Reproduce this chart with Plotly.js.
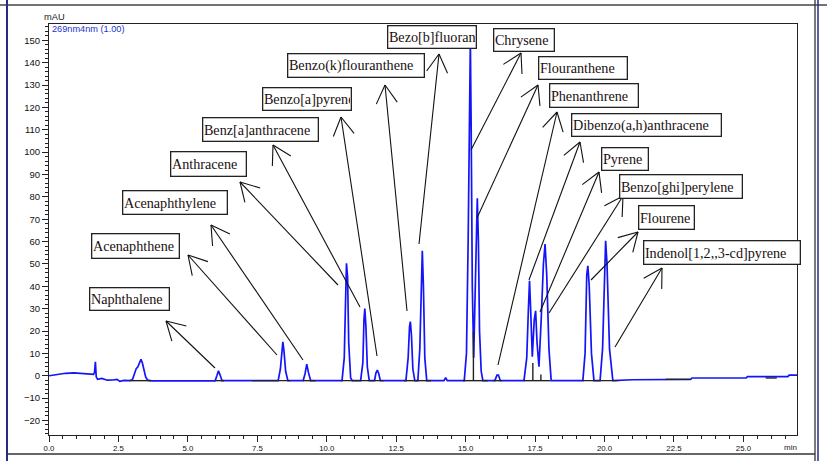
<!DOCTYPE html>
<html>
<head>
<meta charset="utf-8">
<script src="https://cdn.plot.ly/plotly-3.0.1.min.js"></script>
<style>html,body{margin:0;padding:0;background:#fff;}#chart{width:827px;height:461px;}</style>
</head>
<body>
<div id="chart"></div>
<script>
// ---- chromatogram data (retention time in min, absorbance in mAU) ----
const time = [0,0.15,0.35,0.6,0.9,1.2,1.45,1.6,1.64,1.67,1.7,1.75,1.9,2.1,2.3,2.45,2.55,2.7,2.9,3.0,3.08,3.14,3.2,3.27,3.31,3.36,3.42,3.48,3.55,3.7,5.0,
  5.98,6.05,6.1,6.16,6.23,7.5,8.25,8.33,8.38,8.42,8.46,8.52,8.6,9.15,9.22,9.28,9.34,9.42,
  10.55,10.63,10.67,10.71,10.75,10.79,10.86,10.92,11.22,11.3,11.34,11.37,11.41,11.46,11.53,
  11.72,11.77,11.82,11.87,11.93,12.85,12.93,12.98,13.01,13.05,13.1,13.17,
  13.28,13.35,13.4,13.44,13.48,13.53,13.6,14.22,14.28,14.34,
  14.95,15.03,15.09,15.14,15.17,15.2,15.24,15.29,15.34,15.39,15.42,15.46,15.5,15.56,15.62,
  16.05,16.13,16.18,16.25,17.1,17.2,17.26,17.3,17.34,17.4,17.47,17.52,17.57,17.64,17.72,17.8,17.86,17.92,18.0,18.08,
  19.22,19.3,19.36,19.4,19.45,19.53,19.62,19.84,19.93,20.0,20.04,20.09,20.18,20.3,
  21.0,23.1,23.15,25.1,25.15,26.6,26.65,26.93];
const signal = [0,0.3,0.9,1.1,1.3,1.0,0.9,0.6,1.5,6.2,-0.5,-1.6,-1.2,-2.0,-1.9,-1.6,-2.5,-2.1,-2.2,-1.8,1.0,3.2,4.0,6.5,7.3,5.8,2.5,-0.5,-2.0,-2.3,-2.3,
  -2.3,0.2,2.2,0.3,-2.2,-2.2,-2.2,3,12,15.2,11,2,-2.2,-2.2,1,5.2,1.5,-2.2,
  -2.2,8,30,50.3,44,15,-1,-2.2,-2.2,6,25,30.1,22,4,-2.2,
  -2.2,1.2,2.5,1,-2.2,-2.2,8,22,24.2,18,3,-2.2,
  -2.2,12,45,55.9,40,8,-2.2,-2.2,-0.8,-2.2,
  -2.2,10,60,120,150,110,40,8,40,75,79.4,60,20,2,-2.2,
  -2.2,0.3,0.3,-2.2,-2.2,8,30,42.5,30,8.5,25,29,15,4,25,50,58.9,45,12,-2.2,
  -2.2,10,45,49.2,40,10,-2.2,-2.2,12,52,60.4,50,12,-2.2,
  -1.8,-1.6,-1.0,-1.0,-0.4,-0.4,0.3,0.3];

// integration baselines and drop lines (black)
const baseTime  = [2.9,3.67,null,6.0,6.3,null,7.3,8.7,null,9.15,9.6,null,10.5,12.05,null,12.78,13.75,null,14.9,15.8,null,16.0,16.3,null,17.1,18.05,null,19.2,20.5,null,22.2,23.1,null,25.8,26.2,null,15.28,15.28,null,17.42,17.42,null,17.71,17.71];
const baseValue = [-2.2,-2.2,null,-2.2,-2.2,null,-2.2,-2.2,null,-2.2,-2.2,null,-2.2,-2.2,null,-2.2,-2.2,null,-2.2,-2.2,null,-2.2,-2.2,null,-2.2,-2.2,null,-2.2,-2.2,null,-1.6,-1.6,null,-1.0,-1.0,null,-2.2,19.7,null,-2.2,5.7,null,-2.2,0.5];

// compound labels
const compounds = ["Naphthalene","Acenaphthene","Acenaphthylene","Anthracene","Benz[a]anthracene","Benzo[a]pyrene",
  "Benzo(k)flouranthene","Bezo[b]fluoran","Chrysene","Flouranthene","Phenanthrene","Dibenzo(a,h)anthracene",
  "Pyrene","Benzo[ghi]perylene","Flourene","Indenol[1,2,,3-cd]pyrene"];

const xTickStep = 2.5, yTickStep = 10;

// ---- layout geometry (pixels) ----
const L = 49, T = 24, W = 748, H = 411;
function P(px, py){ return [(px - L) / W, (T + H - py) / H]; }

// label box geometry [left, top, right, bottom] in px
const boxes = [[89,287,170,311],[91,233,180,259],[122,190,228,215],[170,151,247,177],[202,117,319,142],[262,87,352,111],
  [287,53,425,78],[387,25,477,49],[493,28,555,52],[538,56,628,80],[549,83,639,108],[571,113,722,137],
  [601,147,649,171],[619,174,743,199],[638,205,695,230],[643,240,801,265]];
// arrows [tipX, tipY, tailX, tailY] in px
const arrows = [[166,321,215,368],[188,255,277,355],[211,225,303,360],[240,182,338,285],[273,145,360,307],[341,117,377,356],
  [385,85,407,311],[439,54,419,244],[521,53,471,150],[538,85,477,218],[557,112,498,365],[580,142,529,280],
  [599,172,540,312],[623,196,549,313],[638,232,591,280],[662,268,615,347]];

const shapes = [];
const annotations = [];
function line(x0,y0,x1,y1,color,width){
  const a = P(x0,y0), b = P(x1,y1);
  shapes.push({type:'line', xref:'paper', yref:'paper', x0:a[0], y0:a[1], x1:b[0], y1:b[1], line:{color:color, width:width}});
}
// outer frame
line(0,5,827,5,'#444',1.3);
line(7,0,7,461,'#2a2a8a',2);
line(7,454,815,454,'#333',1.3);
line(815,0,815,461,'#333',1.3);
line(818,0,818,461,'#2a2a8a',1.5);

// arrows
arrows.forEach(a => {
  const [tx,ty,sx,sy] = a;
  line(tx,ty,sx,sy,'#111',1.1);
  const dx = sx-tx, dy = sy-ty, len = Math.hypot(dx,dy);
  const ux = dx/len, uy = dy/len, al = 21, ang = 30*Math.PI/180;
  [ang,-ang].forEach(t => {
    const rx = ux*Math.cos(t) - uy*Math.sin(t), ry = ux*Math.sin(t) + uy*Math.cos(t);
    line(tx,ty,tx+rx*al,ty+ry*al,'#111',1.1);
  });
});

// label boxes
const bw = 1.3, pad = 0.6;
compounds.forEach((name,i) => {
  const [l,t,r,b] = boxes[i];
  const p = P(l,t);
  annotations.push({text:name, xref:'paper', yref:'paper', x:p[0], y:p[1], xanchor:'left', yanchor:'top',
    showarrow:false, align:'left', valign:'middle', width:(r-l)-2*(bw+pad), height:(b-t)-2*(bw+pad),
    bgcolor:'#ffffff', bordercolor:'#222', borderwidth:bw, borderpad:pad,
    font:{family:'Liberation Serif, Times New Roman, serif', size:14.2, color:'#1a1010'}});
});

// small texts
let p = P(54,17);
annotations.push({text:'mAU', xref:'paper', yref:'paper', x:p[0], y:p[1], xanchor:'center', yanchor:'middle', showarrow:false,
  font:{family:'Liberation Sans, Arial, sans-serif', size:9.3, color:'#222'}});
p = P(49.5,28.5);
annotations.push({text:'269nm4nm (1.00)', xref:'paper', yref:'paper', x:p[0], y:p[1], xanchor:'left', yanchor:'middle', showarrow:false,
  font:{family:'Liberation Sans, Arial, sans-serif', size:9.2, color:'#2233cc'}});
p = P(790,447.5);
annotations.push({text:'min', xref:'paper', yref:'paper', x:p[0], y:p[1], xanchor:'center', yanchor:'middle', showarrow:false,
  font:{family:'Liberation Sans, Arial, sans-serif', size:8, color:'#222'}});

const traces = [
  {x: time, y: signal, type:'scatter', mode:'lines', line:{color:'rgb(20,20,250)', width:1.7}, hoverinfo:'skip'},
  {x: baseTime, y: baseValue, type:'scatter', mode:'lines', line:{color:'#222', width:1.4}, connectgaps:false, hoverinfo:'skip'}
];

const layout = {
  width: 827, height: 461,
  margin: {l: L, r: 827 - L - W, t: T, b: 461 - T - H, pad: 0},
  paper_bgcolor: '#fff', plot_bgcolor: '#fff',
  showlegend: false,
  xaxis: {range:[0, 26.93], tick0:0, dtick:xTickStep, tickformat:'.1f', ticks:'outside', ticklen:6, tickcolor:'#222',
    showline:true, linecolor:'#222', linewidth:1, mirror:true, showgrid:false, zeroline:false,
    minor:{dtick:0.5, ticks:'outside', ticklen:3, tickcolor:'#222'},
    tickfont:{family:'Liberation Sans, Arial, sans-serif', size:7.8, color:'#111'}},
  yaxis: {range:[-26.5, 157.3], tick0:0, dtick:yTickStep, ticks:'outside', ticklen:6, tickcolor:'#222',
    showline:true, linecolor:'#222', linewidth:1, mirror:true, showgrid:false, zeroline:false,
    minor:{dtick:2, ticks:'outside', ticklen:3, tickcolor:'#222'},
    tickfont:{family:'Liberation Sans, Arial, sans-serif', size:9.5, color:'#111'}},
  shapes: shapes,
  annotations: annotations
};

Plotly.newPlot('chart', traces, layout, {staticPlot:true, displayModeBar:false});
</script>
</body>
</html>
